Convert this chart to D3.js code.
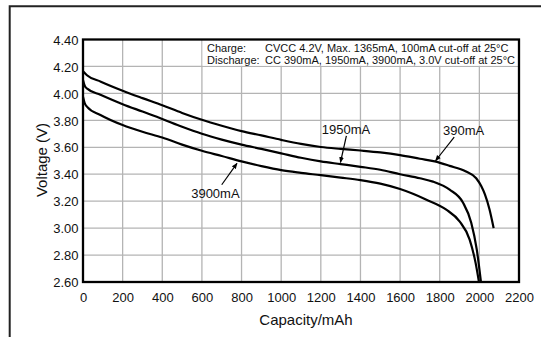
<!DOCTYPE html>
<html>
<head>
<meta charset="utf-8">
<script src="https://cdn.jsdelivr.net/npm/d3@7"></script>
<style>
  html, body { margin: 0; padding: 0; background: #fff; }
  svg { display: block; }
  text { font-family: "Liberation Sans", Arial, Helvetica, sans-serif; fill: #111; }
</style>
</head>
<body>
<svg id="chart" width="541" height="337"></svg>
<script>
// Discharge curves: [capacity mAh, voltage V]
const curve390 = [
  [0, 4.165], [20, 4.135], [90, 4.087], [200, 4.02], [300, 3.965], [400, 3.912],
  [500, 3.855], [600, 3.804], [700, 3.76], [800, 3.72], [900, 3.688], [1000, 3.655],
  [1100, 3.625], [1200, 3.602], [1300, 3.588], [1400, 3.576], [1500, 3.562],
  [1600, 3.542], [1700, 3.515], [1775, 3.495], [1850, 3.462], [1930, 3.422],
  [1984, 3.37], [2010, 3.31], [2028, 3.25], [2051, 3.14], [2072, 3.00]
];
const curve1950 = [
  [0, 4.10], [8, 4.06], [21, 4.035], [88, 3.99], [200, 3.92], [300, 3.865],
  [400, 3.81], [500, 3.752], [600, 3.70], [700, 3.657], [800, 3.62], [900, 3.588],
  [1000, 3.555], [1100, 3.522], [1200, 3.495], [1300, 3.475], [1400, 3.455],
  [1500, 3.433], [1600, 3.40], [1700, 3.37], [1766, 3.345], [1850, 3.285],
  [1917, 3.19], [1959, 3.04], [1987, 2.84], [2008, 2.60]
];
const curve3900 = [
  [0, 3.975], [8, 3.93], [21, 3.90], [88, 3.84], [200, 3.765], [300, 3.715],
  [400, 3.673], [500, 3.62], [600, 3.574], [700, 3.535], [800, 3.495], [900, 3.46],
  [1000, 3.43], [1100, 3.41], [1200, 3.393], [1300, 3.375], [1400, 3.356],
  [1500, 3.33], [1600, 3.29], [1733, 3.211], [1833, 3.137], [1900, 3.05],
  [1951, 2.915], [1981, 2.742], [1998, 2.60]
];

const xTicks = [0, 200, 400, 600, 800, 1000, 1200, 1400, 1600, 1800, 2000, 2200];
const yTicks = [2.6, 2.8, 3.0, 3.2, 3.4, 3.6, 3.8, 4.0, 4.2, 4.4];

// Current labels with arrows: label position, arrow start and arrow tip (data units)
const labelNames = ["1950mA", "390mA", "3900mA"];
const labelPos   = [[1327, 3.737], [1921, 3.726], [668, 3.256]];
const arrowFrom  = [[1329, 3.685], [1873, 3.676], [700, 3.322]];
const arrowTo    = [[1299, 3.487], [1779, 3.500], [777, 3.481]];

const conditionLabels = ["Charge:", "Discharge:"];
const conditionTexts = [
  "CVCC 4.2V, Max. 1365mA, 100mA cut-off at 25°C",
  "CC 390mA, 1950mA, 3900mA, 3.0V cut-off at 25°C"
];

const svg = d3.select("#chart");
const plotLeft = 83, plotRight = 519, plotTop = 39.5, plotBottom = 282;

const x = d3.scaleLinear().domain([0, 2200]).range([plotLeft, plotRight]);
const y = d3.scaleLinear().domain([2.6, 4.4]).range([plotBottom, plotTop]);

// outer frame (runs off the right and bottom edges)
svg.append("path")
  .attr("d", `M${541 + 5},6.3 L9.7,6.3 L9.7,${337 + 5}`)
  .attr("fill", "none").attr("stroke", "#222").attr("stroke-width", 2);

// grid
const grid = svg.append("g");
grid.selectAll(".gx").data(xTicks.slice(1, -1)).join("line")
  .attr("x1", d => x(d)).attr("x2", d => x(d))
  .attr("y1", plotTop).attr("y2", plotBottom)
  .attr("stroke", "#b4b4b4").attr("stroke-width", 1.3);
grid.selectAll(".gy").data(yTicks.slice(1, -1)).join("line")
  .attr("x1", plotLeft).attr("x2", plotRight)
  .attr("y1", d => y(d)).attr("y2", d => y(d))
  .attr("stroke", "#b4b4b4").attr("stroke-width", 1.3);

// conditions box in the upper right of the plot
svg.append("rect")
  .attr("x", x(600) + 0.7).attr("y", plotTop)
  .attr("width", plotRight - x(600) - 0.7).attr("height", y(4.2) - plotTop - 0.7)
  .attr("fill", "#fff");
const cond = svg.append("g").style("font-size", "11px");
conditionLabels.forEach((t, i) => {
  cond.append("text").attr("x", 207).attr("y", 51.8 + i * 12.3).text(t);
  cond.append("text").attr("x", 265).attr("y", 51.8 + i * 12.3).text(conditionTexts[i]);
});

// curves
const line = d3.line().x(d => x(d[0])).y(d => y(d[1])).curve(d3.curveMonotoneX);
svg.selectAll(".curve").data([curve390, curve1950, curve3900]).join("path")
  .attr("d", line)
  .attr("fill", "none").attr("stroke", "#000").attr("stroke-width", 2.2)
  .attr("stroke-linejoin", "round");

// plot border
svg.append("rect")
  .attr("x", plotLeft).attr("y", plotTop)
  .attr("width", plotRight - plotLeft).attr("height", plotBottom - plotTop)
  .attr("fill", "none").attr("stroke", "#000").attr("stroke-width", 2.3);

// axes
const xAxis = d3.axisBottom(x).tickValues(xTicks).tickSize(0).tickPadding(0).tickFormat(d3.format("d"));
const gx = svg.append("g").attr("transform", `translate(0,${plotBottom})`).call(xAxis);
gx.select(".domain").remove();
gx.selectAll("text").attr("y", 20.3).attr("dy", null)
  .style("font-size", "13px").style("font-family", '"Liberation Sans", Arial, sans-serif').attr("fill", "#111");

const yAxis = d3.axisLeft(y).tickValues(yTicks).tickSize(0).tickPadding(0).tickFormat(d3.format(".2f"));
const gy = svg.append("g").attr("transform", `translate(${plotLeft - 4.5},0)`).call(yAxis);
gy.select(".domain").remove();
gy.selectAll("text").attr("dy", "0.36em")
  .style("font-size", "13px").style("font-family", '"Liberation Sans", Arial, sans-serif').attr("fill", "#111");

// axis titles
svg.append("text").attr("x", 306).attr("y", 325)
  .attr("text-anchor", "middle").style("font-size", "15px").text("Capacity/mAh");
svg.append("text").attr("transform", "translate(46.5,160) rotate(-90)")
  .attr("text-anchor", "middle").style("font-size", "15px").text("Voltage (V)");

// arrow labels
svg.append("defs").append("marker")
  .attr("id", "tip").attr("viewBox", "0 0 10 10")
  .attr("refX", 9).attr("refY", 5)
  .attr("markerWidth", 6).attr("markerHeight", 6)
  .attr("markerUnits", "userSpaceOnUse")
  .attr("orient", "auto")
  .append("path").attr("d", "M0,1 L10,5 L0,9 Z").attr("fill", "#000");

labelNames.forEach((name, i) => {
  svg.append("text")
    .attr("x", x(labelPos[i][0])).attr("y", y(labelPos[i][1]))
    .attr("dy", "0.36em").attr("text-anchor", "middle")
    .style("font-size", "13px").text(name);
  svg.append("line")
    .attr("x1", x(arrowFrom[i][0])).attr("y1", y(arrowFrom[i][1]))
    .attr("x2", x(arrowTo[i][0])).attr("y2", y(arrowTo[i][1]))
    .attr("stroke", "#000").attr("stroke-width", 1.2)
    .attr("marker-end", "url(#tip)");
});
</script>
</body>
</html>
